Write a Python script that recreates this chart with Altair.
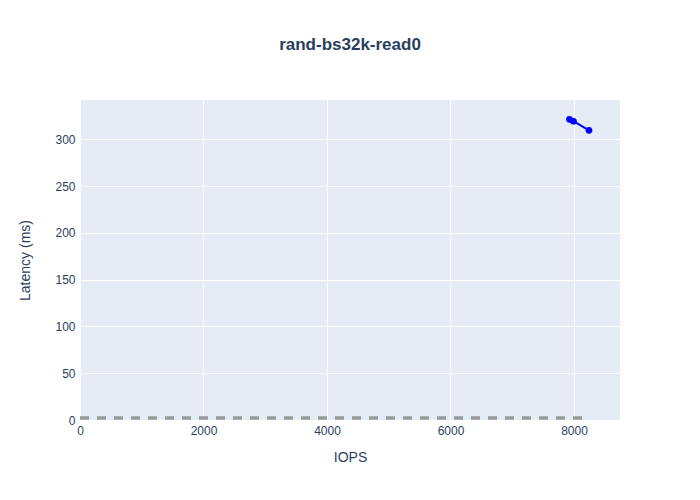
import altair as alt
import pandas as pd

iops = [7927, 7992, 8243]
latency = [321.4, 319.3, 309.6]
ref_iops = [0, 8243]
ref_latency = [2.1, 2.1]

df = pd.DataFrame({"IOPS": iops, "Latency": latency})
ref = pd.DataFrame({"IOPS": ref_iops, "Latency": ref_latency})

font = "Liberation Sans"
xscale = alt.Scale(domain=[0, 8745], nice=False, zero=False)
yscale = alt.Scale(domain=[0, 342], nice=False, zero=False)

xaxis = alt.Axis(values=[0, 2000, 4000, 6000, 8000], title="IOPS", format="d", labelFlush=False)
yaxis = alt.Axis(values=[0, 50, 100, 150, 200, 250, 300], title="Latency (ms)", labelFlush=False)

refline = alt.Chart(ref).mark_line(color="#999999", strokeWidth=3.5, strokeDash=[9, 8]).encode(
    x=alt.X("IOPS:Q", scale=xscale, axis=xaxis),
    y=alt.Y("Latency:Q", scale=yscale, axis=yaxis),
)

line = alt.Chart(df).mark_line(color="#0000ff", strokeWidth=2, point=alt.OverlayMarkDef(color="#0000ff", size=45, filled=True, opacity=1)).encode(
    x=alt.X("IOPS:Q", scale=xscale),
    y=alt.Y("Latency:Q", scale=yscale),
)

chart = (refline + line).properties(
    width=540,
    height=320,
    title=alt.TitleParams("rand-bs32k-read0", fontSize=17, fontWeight="bold", color="#2a3f5f", font=font, anchor="middle", offset=46),
    autosize=alt.AutoSizeParams(type="none"),
    padding={"left": 72, "top": 92, "right": 64, "bottom": 64},
    background="white",
).configure_view(fill="#e5ecf6", stroke=None).configure_axis(
    grid=True,
    gridColor="white",
    gridWidth=1,
    domain=False,
    ticks=False,
    labelFont=font,
    labelFontSize=12,
    labelColor="#2a3f5f",
    titleFont=font,
    titleFontSize=14,
    titleColor="#2a3f5f",
    titleFontWeight="normal",
    labelPadding=5,
).configure_axisX(titlePadding=14).configure_axisY(titlePadding=22)

chart.save("out.html", embed_options={"renderer": "svg", "actions": False})
